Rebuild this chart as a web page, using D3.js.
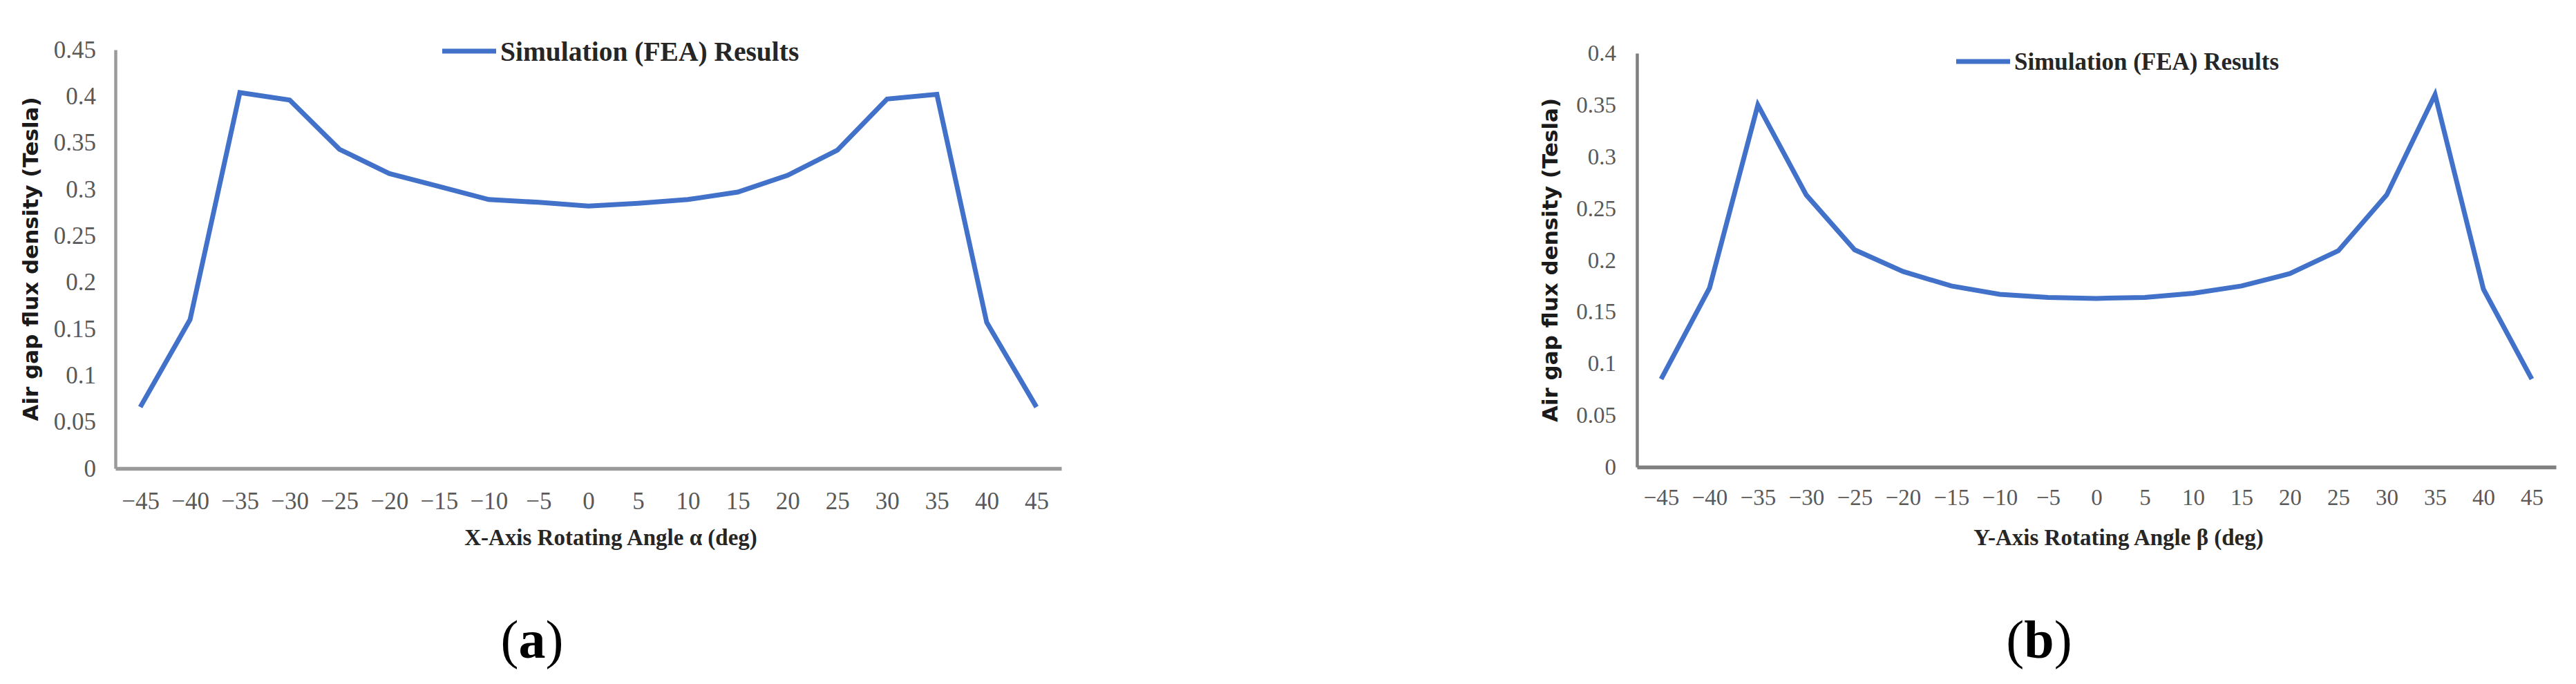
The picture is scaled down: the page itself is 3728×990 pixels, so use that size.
<!DOCTYPE html>
<html>
<head>
<meta charset="utf-8">
<script src="https://cdn.jsdelivr.net/npm/d3@7"></script>
<style>
  html, body { margin: 0; padding: 0; background: #ffffff; }
  svg { display: block; }
</style>
</head>
<body>
<svg id="chart" width="3728" height="990"></svg>
<script>
// ---------- DATA ----------
const angles = [-45, -40, -35, -30, -25, -20, -15, -10, -5, 0, 5, 10, 15, 20, 25, 30, 35, 40, 45];
const angleLabels = ["−45", "−40", "−35", "−30", "−25", "−20", "−15", "−10", "−5", "0", "5", "10", "15", "20", "25", "30", "35", "40", "45"];

// (a) X-axis rotation
const fluxA = [0.066, 0.160, 0.404, 0.396, 0.343, 0.317, 0.303, 0.289, 0.286, 0.282, 0.285, 0.289, 0.297, 0.315, 0.342, 0.397, 0.402, 0.157, 0.066];
// (b) Y-axis rotation
const fluxB = [0.085, 0.173, 0.350, 0.263, 0.210, 0.189, 0.175, 0.167, 0.164, 0.163, 0.164, 0.168, 0.175, 0.187, 0.209, 0.263, 0.360, 0.172, 0.085];

const yTicksA = [0, 0.05, 0.1, 0.15, 0.2, 0.25, 0.3, 0.35, 0.4, 0.45];
const yTickLabelsA = ["0", "0.05", "0.1", "0.15", "0.2", "0.25", "0.3", "0.35", "0.4", "0.45"];
const yTicksB = [0, 0.05, 0.1, 0.15, 0.2, 0.25, 0.3, 0.35, 0.4];
const yTickLabelsB = ["0", "0.05", "0.1", "0.15", "0.2", "0.25", "0.3", "0.35", "0.4"];

const seriesName = "Simulation (FEA) Results";
const yTitle = "Air gap flux density (Tesla)";
const xTitleA = "X-Axis Rotating Angle α (deg)";
const xTitleB = "Y-Axis Rotating Angle β (deg)";
const panelA = "a";
const panelB = "b";

// ---------- DRAW ----------
const svg = d3.select("#chart");
const LINE_COLOR = "#4171c8";

function drawPanel(cfg) {
  const g = svg.append("g");
  const x = d3.scalePoint().domain(angles).range([cfg.left, cfg.right]).padding(0.5);
  const y = d3.scaleLinear().domain([0, cfg.yMax]).range([cfg.bottom, cfg.top]);

  // y axis
  const yAxis = d3.axisLeft(y)
    .tickValues(cfg.yTicks)
    .tickFormat((d, i) => cfg.yLabels[i])
    .tickSize(0).tickPadding(cfg.yPad);
  const ya = g.append("g").attr("transform", `translate(${cfg.left},0)`).call(yAxis);
  ya.select(".domain").attr("stroke", cfg.axisColor).attr("stroke-width", 4.5);
  ya.selectAll("text")
    .attr("font-family", "'Liberation Serif', 'Times New Roman', serif")
    .attr("font-size", cfg.tickFont).attr("fill", "#595959");

  // x axis
  const xAxis = d3.axisBottom(x)
    .tickFormat((d, i) => angleLabels[i])
    .tickSize(0).tickPadding(cfg.xPad);
  const xa = g.append("g").attr("transform", `translate(0,${cfg.bottom})`).call(xAxis);
  xa.select(".domain").attr("stroke", cfg.axisColor).attr("stroke-width", 5.5);
  xa.selectAll("text")
    .attr("font-family", "'Liberation Serif', 'Times New Roman', serif")
    .attr("font-size", cfg.tickFont).attr("fill", "#595959");

  // line
  const line = d3.line().x((d, i) => x(angles[i])).y(d => y(d));
  g.append("path").datum(cfg.values)
    .attr("d", line).attr("fill", "none")
    .attr("stroke", LINE_COLOR).attr("stroke-width", 7)
    .attr("stroke-linejoin", "miter");

  // legend
  g.append("line")
    .attr("x1", cfg.legX).attr("x2", cfg.legX + 78)
    .attr("y1", cfg.legY).attr("y2", cfg.legY)
    .attr("stroke", LINE_COLOR).attr("stroke-width", 7);
  g.append("text")
    .attr("x", cfg.legX + 84).attr("y", cfg.legY)
    .attr("dy", "0.35em")
    .attr("font-family", "'Liberation Serif', 'Times New Roman', serif")
    .attr("font-weight", "bold").attr("font-size", cfg.legFont)
    .attr("fill", "#262626").text(seriesName);

  // y title
  const cy = (cfg.top + cfg.bottom) / 2;
  g.append("text")
    .attr("transform", `translate(${cfg.yTitleX},${cy}) rotate(-90)`)
    .attr("text-anchor", "middle").attr("dy", "0.35em")
    .attr("font-family", "'DejaVu Sans', Verdana, sans-serif")
    .attr("font-weight", "bold").attr("font-size", 31)
    .attr("fill", "#1a1a1a").text(yTitle);

  // x title
  g.append("text")
    .attr("x", cfg.xTitleX).attr("y", cfg.xTitleY)
    .attr("text-anchor", "middle")
    .attr("font-family", "'Liberation Serif', 'Times New Roman', serif")
    .attr("font-weight", "bold").attr("font-size", 33)
    .attr("fill", "#262626").text(cfg.xTitle);

  // panel label
  const pl = g.append("text")
    .attr("x", cfg.panelX).attr("y", 952)
    .attr("text-anchor", "middle")
    .attr("font-family", "'Liberation Serif', 'Times New Roman', serif")
    .attr("font-size", 78).attr("fill", "#000");
  pl.append("tspan").text("(");
  pl.append("tspan").attr("font-weight", "bold").text(cfg.panel);
  pl.append("tspan").text(")");
}

drawPanel({
  left: 167, right: 1536, top: 72, bottom: 678, yMax: 0.45,
  yTicks: yTicksA, yLabels: yTickLabelsA, values: fluxA,
  axisColor: "#9a9a9a", tickFont: 35, yPad: 28, xPad: 34,
  legX: 640, legY: 74, legFont: 39.5,
  yTitleX: 44, xTitleX: 884, xTitleY: 789, xTitle: xTitleA,
  panelX: 770, panel: panelA
});

drawPanel({
  left: 2369, right: 3699, top: 77, bottom: 676, yMax: 0.4,
  yTicks: yTicksB, yLabels: yTickLabelsB, values: fluxB,
  axisColor: "#7f7f7f", tickFont: 33, yPad: 30, xPad: 32,
  legX: 2831, legY: 89, legFont: 35,
  yTitleX: 2243, xTitleX: 3066, xTitleY: 789, xTitle: xTitleB,
  panelX: 2951, panel: panelB
});
</script>
</body>
</html>
